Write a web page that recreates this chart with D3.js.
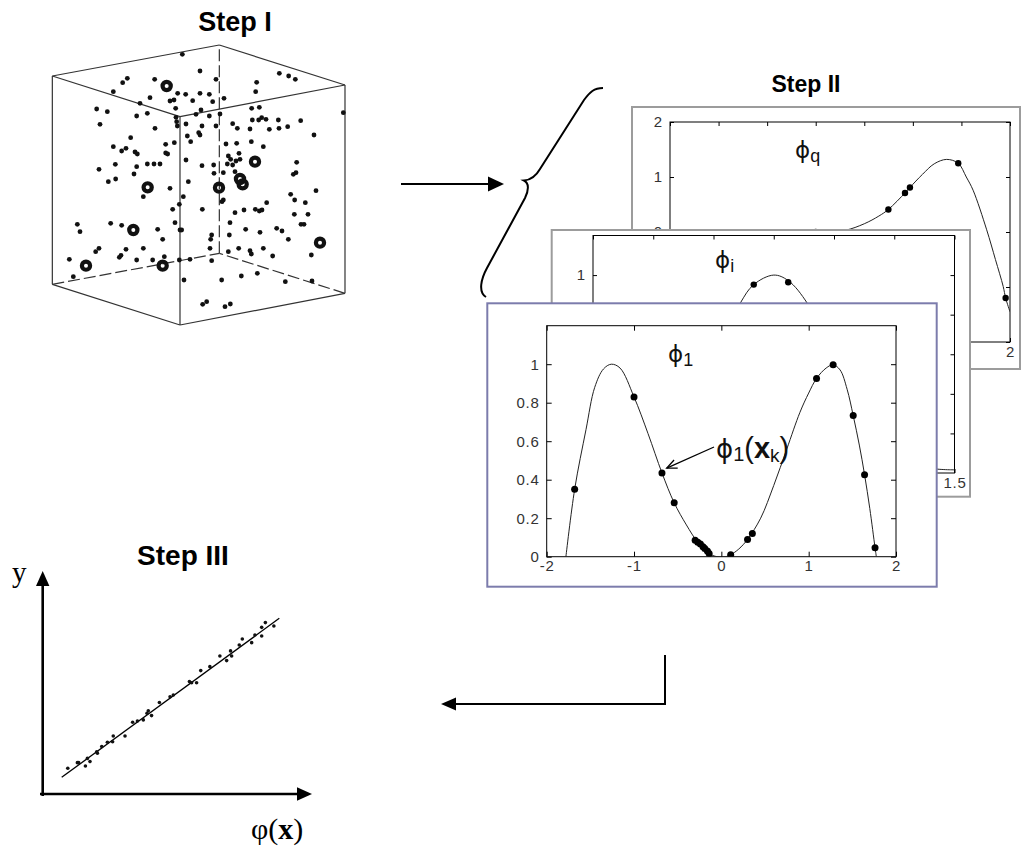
<!DOCTYPE html>
<html>
<head>
<meta charset="utf-8">
<script src="https://cdn.jsdelivr.net/npm/d3@7"></script>
<style>
  body { margin: 0; background: #fff; }
</style>
</head>
<body>
<div id="chart"></div>
<script>
// ---------- Step I : point cloud in the cube (projected, 0-100 units) ----------
var cubeCorners = [[48.0,97.5],[9.7,85.3],[97.5,88.0],[59.8,76.0],
                   [48.0,35.0],[9.7,22.8],[97.5,25.5],[59.8,13.5]];
// [from, to, hidden]
var cubeEdges = [[0,1,0],[0,2,0],[1,3,1],[2,3,1],[4,5,0],[4,6,0],[5,7,0],[6,7,0],
                 [0,4,0],[1,5,0],[2,6,0],[3,7,1]];
var cloudPoints = [[48.7,16.3],[54.0,21.3],[77.8,22.0],[80.6,22.8],[82.6,23.8],[32.2,23.5],[30.8,24.8],[40.4,23.8],
  [58.8,23.8],[71.0,24.7],[28.0,27.5],[47.3,28.0],[49.7,28.3],[51.8,30.2],[54.0,28.0],[56.8,28.3],[61.2,29.5],
  [70.7,27.5],[39.0,29.3],[45.0,30.3],[46.2,30.0],[36.0,31.0],[57.8,30.5],[23.0,32.7],[26.2,33.5],[46.7,32.5],
  [54.3,33.0],[69.5,32.5],[71.8,32.2],[35.0,34.8],[38.2,34.0],[40.5,38.5],[60.0,34.2],[56.8,34.8],[46.8,35.2],
  [47.0,36.5],[47.2,37.8],[52.8,34.3],[72.5,35.3],[73.8,35.8],[71.6,36.0],[69.7,36.0],[69.0,38.7],[77.5,36.0],
  [84.2,36.2],[24.0,37.3],[49.8,37.2],[54.6,37.8],[58.8,37.8],[63.8,37.1],[65.2,38.5],[74.8,38.8],[77.7,38.5],
  [80.3,38.0],[33.2,41.3],[50.2,40.8],[53.6,39.8],[54.0,40.5],[51.2,42.5],[43.7,43.3],[46.3,42.8],[28.0,44.0],
  [30.5,45.3],[31.8,44.5],[34.5,45.6],[35.2,46.2],[43.7,45.9],[44.3,46.2],[61.8,43.2],[65.0,43.0],[69.4,42.5],
  [73.0,44.0],[88.2,40.5],[49.8,48.0],[54.6,49.7],[58.1,49.5],[62.5,46.8],[63.2,47.8],[64.8,48.3],[66.0,47.8],
  [65.7,46.0],[62.2,49.2],[63.8,49.5],[28.6,49.3],[35.0,50.0],[38.2,49.2],[40.2,49.2],[42.0,49.2],[23.7,50.8],
  [61.0,51.8],[58.2,52.0],[64.5,51.5],[83.0,48.7],[82.0,52.3],[82.8,51.8],[26.5,54.5],[28.7,53.7],[34.2,52.2],
  [50.5,54.5],[45.0,56.5],[37.0,59.0],[49.0,59.0],[61.0,60.0],[60.6,60.5],[74.0,60.8],[81.2,58.3],[82.4,60.0],
  [85.6,60.8],[88.8,57.2],[64.5,63.8],[67.2,63.0],[70.6,62.8],[71.8,63.3],[72.6,63.0],[54.7,62.8],[47.8,61.3],
  [45.8,62.8],[82.3,64.3],[86.4,64.3],[84.3,67.3],[85.2,67.3],[17.2,67.3],[18.0,69.5],[27.2,67.0],[30.5,67.6],
  [46.5,66.8],[41.3,68.8],[48.0,69.0],[48.5,69.0],[63.0,66.8],[67.7,68.8],[72.0,69.7],[77.0,68.5],[78.6,69.3],
  [62.8,70.5],[57.5,70.5],[57.2,71.8],[80.5,71.8],[42.8,71.8],[23.7,74.5],[22.7,75.5],[31.8,74.8],[37.0,74.5],
  [30.3,76.6],[29.8,77.2],[35.0,78.0],[39.8,78.0],[43.3,77.0],[47.8,78.0],[51.0,77.8],[57.0,74.5],[57.5,78.2],
  [65.6,74.5],[62.5,75.5],[69.0,75.2],[69.4,76.2],[73.0,74.5],[75.8,76.8],[14.8,77.8],[16.0,83.0],[49.2,84.0],
  [60.5,84.0],[66.4,82.8],[71.2,82.0],[79.6,84.5],[87.4,76.5],[87.6,84.3],[54.8,91.3],[56.0,90.5],[61.5,92.0],
  [63.1,91.2],[97.0,33.8]];
var centerPoints = [[44.0,25.8],[38.3,56.2],[70.5,48.5],[59.7,56.3],[66.0,53.7],[66.8,55.3],
                    [34.0,69.0],[19.8,79.7],[42.8,79.7],[90.0,72.8]];

// ---------- Step II : basis functions ----------
var phiQCurve = [[-1.5,0],[0,0],[0.3,0.03],[0.5,0.15],[0.65,0.29],[0.748,0.41],[0.919,0.71],[0.97,0.81],
  [1.1,1.05],[1.22,1.24],[1.348,1.32],[1.467,1.25],[1.55,1.0],[1.62,0.76],[1.76,0.04],[1.85,-0.5],
  [1.93,-0.99],[1.955,-1.2],[2.0,-1.45]];
var phiQDots = [[0,0],[0.748,0.41],[0.919,0.71],[0.97,0.81],[1.467,1.25],[1.955,-1.2]];
var phiQxTicks = [-1.5,-1,-0.5,0,0.5,1,1.5,2];
var phiQxLabels = [2];
var phiQyTicks = [-2,-1,0,1,2];
var phiQyLabels = [0,1,2];

var phiICurve = [[-1.5,-1.46],[-1.3,-1.44],[-1.0,-1.3],[-0.75,-0.85],[-0.5,-0.05],[-0.28,0.64],[-0.166,0.88],
  [0,1],[0.12,0.93],[0.28,0.64],[0.5,-0.05],[0.75,-0.85],[1.0,-1.3],[1.3,-1.44],[1.5,-1.46]];
var phiIDots = [[-0.166,0.88],[0.12,0.91]];
var phiIxTicks = [-1.5,-1,-0.5,0,0.5,1,1.5];
var phiIxLabels = [1.5];
var phiIyTicks = [-1,-0.5,0,0.5,1];
var phiIyLabels = [1];

var phi1Curve = [[-1.78,0],[-1.68,0.35],[-1.55,0.66],[-1.45,0.88],[-1.35,0.975],[-1.26,1.0],[-1.16,0.98],
  [-1.0,0.83],[-0.84,0.64],[-0.68,0.435],[-0.54,0.28],[-0.4,0.165],[-0.27,0.075],[-0.14,0.017],[-0.05,0.0],
  [0.05,0.0],[0.107,0.01],[0.2,0.04],[0.3,0.09],[0.45,0.2],[0.6,0.37],[0.75,0.56],[0.9,0.75],[1.0,0.85],
  [1.09,0.926],[1.2,0.98],[1.28,0.997],[1.36,0.97],[1.44,0.87],[1.51,0.733],[1.58,0.58],[1.64,0.426],
  [1.7,0.25],[1.76,0.047],[1.775,0]];
var phi1Dots = [[-1.68,0.35],[-1.0,0.83],[-0.68,0.435],[-0.54,0.28],[-0.30,0.086],[-0.27,0.075],[-0.24,0.066],
  [-0.21,0.052],[-0.19,0.043],[-0.16,0.03],[-0.14,0.017],[0.107,0.01],[0.30,0.09],[0.355,0.12],[1.09,0.926],
  [1.28,0.997],[1.51,0.733],[1.64,0.426],[1.76,0.047]];
var phi1xTicks = [-2,-1,0,1,2];
var phi1yTicks = [0,0.2,0.4,0.6,0.8,1];

// ---------- Step III : y against phi(x) ----------
var fitPoints = [[0.28,0.57],[0.72,0.92],[0.78,0.92],[1.09,0.71],[1.18,1.19],[1.30,0.99],[1.64,1.51],[1.61,1.61],
  [1.84,1.93],[2.10,2.20],[2.37,2.60],[2.34,2.24],[2.91,2.60],[3.26,3.46],[3.48,3.54],[3.75,3.61],[3.98,4.19],
  [4.13,3.88],[3.92,4.03],[4.49,4.70],[4.98,5.07],[5.13,5.18],[5.87,6.02],[5.97,5.95],[6.20,5.95],[6.39,6.71],
  [6.81,6.96],[7.27,7.63],[7.58,7.34],[7.81,7.63],[7.76,7.95],[8.16,8.32],[8.30,8.70],[8.73,8.47],[8.88,8.95],
  [9.19,8.89],[9.36,9.73],[9.19,9.43],[9.75,9.52]];
var fitLine = [[0,0],[10,10]];

var SANS = "'Liberation Sans', Arial, sans-serif",
    SERIF = "'Liberation Serif', 'Times New Roman', serif",
    PHI = "'DejaVu Sans', sans-serif";

var width = 1029, height = 853;
var svg = d3.select("#chart").append("svg")
    .attr("width", width)
    .attr("height", height)
    .style("font-family", SANS);

var defs = svg.append("defs");

// ===== Step I =====
var cx = d3.scaleLinear().domain([0, 100]).range([20, 353.33]),
    cy = d3.scaleLinear().domain([0, 100]).range([0, 333.33]);

svg.append("text")
    .attr("x", 235).attr("y", 31)
    .attr("text-anchor", "middle")
    .style("font-weight", "bold").style("font-size", "27px")
    .text("Step I");

svg.append("g").selectAll("line")
    .data(cubeEdges)
  .enter().append("line")
    .attr("x1", function(d) { return cx(cubeCorners[d[0]][0]); })
    .attr("y1", function(d) { return cy(cubeCorners[d[0]][1]); })
    .attr("x2", function(d) { return cx(cubeCorners[d[1]][0]); })
    .attr("y2", function(d) { return cy(cubeCorners[d[1]][1]); })
    .attr("stroke", "#333")
    .attr("stroke-width", 1.2)
    .attr("stroke-dasharray", function(d) { return d[2] ? "12,4" : null; });

svg.append("g").selectAll("circle")
    .data(cloudPoints)
  .enter().append("circle")
    .attr("cx", function(d) { return cx(d[0]); })
    .attr("cy", function(d) { return cy(d[1]); })
    .attr("r", 2.4)
    .attr("fill", "#111");

svg.append("g").selectAll("circle")
    .data(centerPoints)
  .enter().append("circle")
    .attr("cx", function(d) { return cx(d[0]); })
    .attr("cy", function(d) { return cy(d[1]); })
    .attr("r", 4.1)
    .attr("fill", "none")
    .attr("stroke", "#111")
    .attr("stroke-width", 4.2);

// arrow Step I -> Step II
svg.append("line")
    .attr("x1", 401).attr("y1", 184).attr("x2", 490).attr("y2", 184)
    .attr("stroke", "#000").attr("stroke-width", 2);
svg.append("path")
    .attr("d", "M504,184 L488,176.5 L488,191.5 Z")
    .attr("fill", "#000");

// curly brace
svg.append("path")
    .attr("d", "M603,88 C594,88 590,92 584,100 L540,169 C536,176 531,180 524,180.5 " +
               "C529,183 529,190 525,198 L487,268 C481,279 478,292 486,297")
    .attr("fill", "none").attr("stroke", "#000").attr("stroke-width", 2);

// ===== Step II =====
svg.append("text")
    .attr("x", 806).attr("y", 92)
    .attr("text-anchor", "middle")
    .style("font-weight", "bold").style("font-size", "23px")
    .text("Step II");

var line = d3.line().curve(d3.curveCatmullRom.alpha(0.5));

function phiLabel(g, x, y, size, sub) {
  var t = g.append("text").attr("x", x).attr("y", y).attr("fill", "#111");
  t.append("tspan").style("font-family", PHI).style("font-size", size + "px").text("\u03D5");
  t.append("tspan").style("font-size", (size * 0.78) + "px").attr("dy", 4).text(sub);
  return t;
}

function drawPanel(p, idx) {
  var g = svg.append("g");
  g.append("rect")
      .attr("x", p.frame[0]).attr("y", p.frame[1])
      .attr("width", p.frame[2] - p.frame[0]).attr("height", p.frame[3] - p.frame[1])
      .attr("fill", "#fff").attr("stroke", p.frameColor).attr("stroke-width", 2);

  var x = d3.scaleLinear().domain(p.xDomain).range([p.box[0], p.box[2]]),
      y = d3.scaleLinear().domain(p.yDomain).range([p.box[3], p.box[1]]);

  function labelFmt(list) {
    return function(d) { return list.indexOf(d) >= 0 ? String(d) : ""; };
  }
  function styleAxis(a) {
    a.attr("font-size", null).attr("font-family", null);
    a.select(".domain").remove();
    a.selectAll(".tick line").attr("stroke", "#000");
    a.selectAll("text").attr("fill", "#333")
      .style("font-size", "15px").style("letter-spacing", "0.8px")
      .style("font-family", SANS);
  }
  g.append("g").attr("transform", "translate(0," + p.box[3] + ")")
      .call(d3.axisBottom(x).tickValues(p.xTicks).tickFormat(labelFmt(p.xLabels)).tickSize(-p.tick).tickPadding(4))
      .call(styleAxis);
  g.append("g").attr("transform", "translate(0," + p.box[1] + ")")
      .call(d3.axisTop(x).tickValues(p.xTicks).tickFormat("").tickSize(-p.tick))
      .call(styleAxis);
  g.append("g").attr("transform", "translate(" + p.box[0] + ",0)")
      .call(d3.axisLeft(y).tickValues(p.yTicks).tickFormat(labelFmt(p.yLabels)).tickSize(-p.tick).tickPadding(7))
      .call(styleAxis);
  g.append("g").attr("transform", "translate(" + p.box[2] + ",0)")
      .call(d3.axisRight(y).tickValues(p.yTicks).tickFormat("").tickSize(-p.tick))
      .call(styleAxis);

  g.append("rect")
      .attr("x", p.box[0]).attr("y", p.box[1])
      .attr("width", p.box[2] - p.box[0]).attr("height", p.box[3] - p.box[1])
      .attr("fill", "none").attr("stroke", "#000").attr("stroke-width", 1);

  defs.append("clipPath").attr("id", "clip" + idx)
    .append("rect")
      .attr("x", p.box[0]).attr("y", p.box[1])
      .attr("width", p.box[2] - p.box[0]).attr("height", p.box[3] - p.box[1]);

  var plot = g.append("g").attr("clip-path", "url(#clip" + idx + ")");
  plot.append("path")
      .datum(p.curve.map(function(d) { return [x(d[0]), y(d[1])]; }))
      .attr("d", line)
      .attr("fill", "none").attr("stroke", "#222").attr("stroke-width", 1);
  plot.selectAll("circle")
      .data(p.dots)
    .enter().append("circle")
      .attr("cx", function(d) { return x(d[0]); })
      .attr("cy", function(d) { return y(d[1]); })
      .attr("r", p.r)
      .attr("fill", "#000");

  phiLabel(g, p.label[0], p.label[1], 23, p.sub);
  return { g: g, x: x, y: y };
}

var panels = [
  { frame: [632, 107, 1020, 369], box: [670, 122, 1010, 342], frameColor: "#9c9c9c",
    xDomain: [-1.5, 2], yDomain: [-2, 2], xTicks: phiQxTicks, yTicks: phiQyTicks,
    xLabels: phiQxLabels, yLabels: phiQyLabels,
    curve: phiQCurve, dots: phiQDots, tick: 4, r: 3.2, label: [795, 158], sub: "q" },
  { frame: [551.7, 230, 970, 496.7], box: [593, 235.5, 954.5, 473], frameColor: "#9c9c9c",
    xDomain: [-1.5, 1.5], yDomain: [-1.5, 1.5], xTicks: phiIxTicks, yTicks: phiIyTicks,
    xLabels: phiIxLabels, yLabels: phiIyLabels,
    curve: phiICurve, dots: phiIDots, tick: 4, r: 3.2, label: [715, 268], sub: "i" },
  { frame: [487.3, 303.3, 936.7, 586.7], box: [546.7, 325.7, 896, 556.7], frameColor: "#7c7cac",
    xDomain: [-2, 2], yDomain: [0, 1.2], xTicks: phi1xTicks, yTicks: phi1yTicks,
    xLabels: phi1xTicks, yLabels: phi1yTicks,
    curve: phi1Curve, dots: phi1Dots, tick: 5, r: 3.5, label: [668, 362], sub: "1" }
];

var last;
panels.forEach(function(p, i) { last = drawPanel(p, i); });

// annotation phi1(xk)
var tip = [last.x(-0.66) + 3, last.y(0.46)],
    tail = [714, 447];
var ang = Math.atan2(tail[1] - tip[1], tail[0] - tip[0]);
last.g.append("line")
    .attr("x1", tail[0]).attr("y1", tail[1]).attr("x2", tip[0]).attr("y2", tip[1])
    .attr("stroke", "#000").attr("stroke-width", 1.3);
last.g.append("path")
    .attr("d", "M" + (tip[0] + 11 * Math.cos(ang + 0.42)) + "," + (tip[1] + 11 * Math.sin(ang + 0.42)) +
               " L" + tip[0] + "," + tip[1] +
               " L" + (tip[0] + 11 * Math.cos(ang - 0.42)) + "," + (tip[1] + 11 * Math.sin(ang - 0.42)))
    .attr("fill", "none").attr("stroke", "#000").attr("stroke-width", 1.3);

var ann = last.g.append("text").attr("x", 716).attr("y", 458).attr("fill", "#111");
ann.append("tspan").style("font-family", PHI).style("font-size", "26px").text("\u03D5");
ann.append("tspan").style("font-size", "20px").attr("dy", 3).text("1");
ann.append("tspan").style("font-size", "29px").attr("dy", -3).text("(");
ann.append("tspan").style("font-size", "29px").style("font-weight", "bold").text("x");
ann.append("tspan").style("font-size", "19px").attr("dy", 4).text("k");
ann.append("tspan").style("font-size", "29px").attr("dy", -4).text(")");

// L-shaped arrow Step II -> Step III
svg.append("path")
    .attr("d", "M665,655 L665,704 L455,704")
    .attr("fill", "none").attr("stroke", "#000").attr("stroke-width", 2);
svg.append("path")
    .attr("d", "M441,704 L456,697.5 L456,710.5 Z")
    .attr("fill", "#000");

// ===== Step III =====
var fx = d3.scaleLinear().domain([0, 10]).range([61.7, 279.3]),
    fy = d3.scaleLinear().domain([0, 10]).range([777.3, 618.3]);

svg.append("text")
    .attr("x", 183).attr("y", 565)
    .attr("text-anchor", "middle")
    .style("font-weight", "bold").style("font-size", "28px")
    .text("Step III");

svg.append("path")
    .attr("d", "M42.7,796 L42.7,584 M40,794 L298,794")
    .attr("fill", "none").attr("stroke", "#000").attr("stroke-width", 2.6);
svg.append("path").attr("d", "M42.7,571 L36,586 L49.4,586 Z").attr("fill", "#000");
svg.append("path").attr("d", "M312,794 L297,787.3 L297,800.7 Z").attr("fill", "#000");

svg.append("path")
    .datum(fitLine)
    .attr("d", d3.line().x(function(d) { return fx(d[0]); }).y(function(d) { return fy(d[1]); }))
    .attr("stroke", "#000").attr("stroke-width", 1.3);

svg.append("g").selectAll("circle")
    .data(fitPoints)
  .enter().append("circle")
    .attr("cx", function(d) { return fx(d[0]); })
    .attr("cy", function(d) { return fy(d[1]); })
    .attr("r", 1.8)
    .attr("fill", "#111");

svg.append("text")
    .attr("x", 12).attr("y", 582)
    .style("font-family", SERIF)
    .style("font-size", "29px")
    .text("y");

var px = svg.append("text")
    .attr("x", 251).attr("y", 839)
    .style("font-family", SERIF)
    .style("font-size", "30px");
px.append("tspan").text("\u03C6(");
px.append("tspan").style("font-weight", "bold").text("x");
px.append("tspan").text(")");
</script>
</body>
</html>
